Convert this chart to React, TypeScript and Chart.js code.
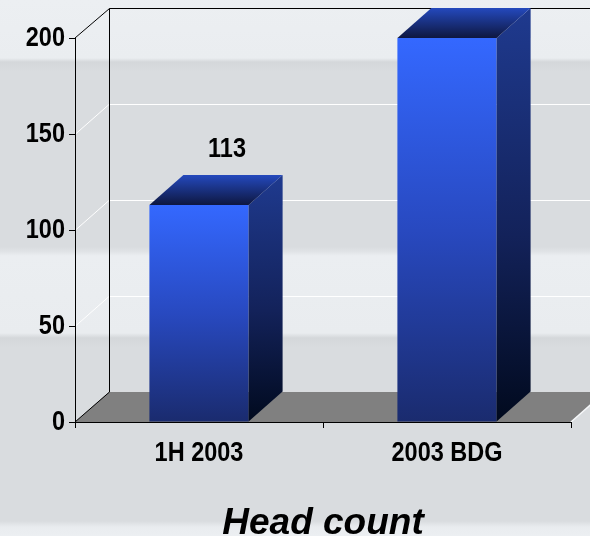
import { useEffect, useRef } from "react";
import { Chart, registerables } from "chart.js";

Chart.register(...registerables);

// ---- data ----
const categories = ["1H 2003", "2003 BDG"];
const headCount = [113, 200];
const yTickValues = [0, 50, 100, 150, 200];
const chartTitle = "Head count";

// ---- style ----
const W = 590;
const H = 536;
const DX = 34; // 3D depth offset (x)
const DY = -30; // 3D depth offset (y)
const SANS = "'Liberation Sans', Arial, sans-serif";
const LABEL_FONT = `bold 23.5px ${SANS}`;
const STRETCH_Y = 1.17;

const bgStops: [number, string][] = [
  [0, "#eceff2"],
  [58, "#eaedf0"],
  [62, "#d4d7da"],
  [72, "#d9dcdf"],
  [247, "#d9dcdf"],
  [251, "#dfe2e5"],
  [256, "#ebeef1"],
  [333, "#e9ecef"],
  [338, "#d4d7da"],
  [348, "#d9dcdf"],
  [521, "#d9dcdf"],
  [527, "#e9ecef"],
  [536, "#eceff2"],
];

function drawLabel(ctx: CanvasRenderingContext2D, text: string, x: number, y: number, align: CanvasTextAlign) {
  ctx.save();
  ctx.translate(x, y);
  ctx.scale(1, STRETCH_Y);
  ctx.font = LABEL_FONT;
  ctx.fillStyle = "#000000";
  ctx.textAlign = align;
  ctx.textBaseline = "middle";
  ctx.fillText(text, 0, 0);
  ctx.restore();
}

const scenePlugin = {
  id: "scene3d",
  beforeDraw(chart: any) {
    const { ctx, chartArea } = chart;
    const { left, right, top, bottom } = chartArea;
    const ys = chart.scales.y;
    ctx.save();
    // background bands
    const g = ctx.createLinearGradient(0, 0, 0, H);
    bgStops.forEach(([y, c]) => g.addColorStop(y / H, c));
    ctx.fillStyle = g;
    ctx.fillRect(0, 0, W, H);

    // floor
    ctx.fillStyle = "#808080";
    ctx.beginPath();
    ctx.moveTo(left, bottom);
    ctx.lineTo(right, bottom);
    ctx.lineTo(right + DX, bottom + DY);
    ctx.lineTo(left + DX, bottom + DY);
    ctx.closePath();
    ctx.fill();
    ctx.strokeStyle = "#f6f8fa";
    ctx.lineWidth = 1.5;
    ctx.beginPath();
    ctx.moveTo(right, bottom);
    ctx.lineTo(right + DX, bottom + DY);
    ctx.stroke();

    // gridlines on side and back walls
    ctx.strokeStyle = "#ffffff";
    ctx.lineWidth = 1;
    const maxV = ys.max;
    ys.ticks.forEach((t: any) => {
      if (t.value === 0 || t.value === maxV) return;
      const py = Math.round(ys.getPixelForValue(t.value)) + 0.5;
      ctx.beginPath();
      ctx.moveTo(left, py);
      ctx.lineTo(left + DX, py + DY);
      ctx.lineTo(W, py + DY);
      ctx.stroke();
    });

    // black frame
    ctx.strokeStyle = "#000000";
    ctx.lineWidth = 1;
    const bx = Math.round(left + DX) + 0.5;
    const ty = Math.round(top + DY) + 0.5;
    ctx.beginPath();
    ctx.moveTo(left, bottom);
    ctx.lineTo(bx, bottom + DY);
    ctx.lineTo(bx, ty);
    ctx.lineTo(W, ty);
    ctx.moveTo(left, top);
    ctx.lineTo(bx, ty);
    ctx.stroke();
    ctx.restore();
  },
  afterDatasetsDraw(chart: any) {
    const { ctx } = chart;
    const meta = chart.getDatasetMeta(0);
    ctx.save();
    meta.data.forEach((bar: any, i: number) => {
      const { x, y, width, base } = bar.getProps(["x", "y", "width", "base"], true);
      const l = x - width / 2;
      const r = x + width / 2;
      // side face
      const sg = ctx.createLinearGradient(0, y + DY, 0, base);
      sg.addColorStop(0, "#1f3a8f");
      sg.addColorStop(0.55, "#13225a");
      sg.addColorStop(1, "#010a1e");
      ctx.fillStyle = sg;
      ctx.beginPath();
      ctx.moveTo(r, y);
      ctx.lineTo(r + DX, y + DY);
      ctx.lineTo(r + DX, base + DY);
      ctx.lineTo(r, base);
      ctx.closePath();
      ctx.fill();
      // top face
      const tg = ctx.createLinearGradient(0, y + DY, 0, y);
      tg.addColorStop(0, "#2449bd");
      tg.addColorStop(1, "#0e1740");
      ctx.fillStyle = tg;
      ctx.beginPath();
      ctx.moveTo(l, y);
      ctx.lineTo(r, y);
      ctx.lineTo(r + DX, y + DY);
      ctx.lineTo(l + DX, y + DY);
      ctx.closePath();
      ctx.fill();
      // value label
      drawLabel(ctx, String(headCount[i]), x + 28, y - 56, "center");
    });
    ctx.restore();
  },
  afterDraw(chart: any) {
    const { ctx, chartArea } = chart;
    const xs = chart.scales.x;
    const ys = chart.scales.y;
    // y tick labels
    ys.ticks.forEach((t: any) => {
      drawLabel(ctx, String(t.value), chartArea.left - 10, ys.getPixelForValue(t.value) + 0.5, "right");
    });
    // category labels
    categories.forEach((c, i) => {
      drawLabel(ctx, c, xs.getPixelForValue(i), chartArea.bottom + 31, "center");
    });
  },
};

export default function App() {
  const ref = useRef<HTMLCanvasElement | null>(null);

  useEffect(() => {
    if (!ref.current) return;
    const chart = new Chart(ref.current, {
      type: "bar",
      data: {
        labels: categories,
        datasets: [
          {
            data: headCount,
            barPercentage: 0.4,
            categoryPercentage: 1,
            borderWidth: 0,
            backgroundColor: (c: any) => {
              const ch = c.chart;
              const ys = ch.scales?.y;
              if (!ys || c.raw == null || !isFinite(ys.getPixelForValue(0))) return "#3366ff";
              const t = ys.getPixelForValue(c.raw);
              const b = ys.getPixelForValue(0);
              const g = ch.ctx.createLinearGradient(0, t, 0, b);
              g.addColorStop(0, "#3468ff");
              g.addColorStop(0.5, "#2849c0");
              g.addColorStop(1, "#1a2b6e");
              return g;
            },
          },
        ],
      },
      options: {
        responsive: false,
        animation: false,
        layout: { padding: { top: 38, right: 19, left: 0, bottom: 0 } },
        plugins: {
          legend: { display: false },
          tooltip: { enabled: false },
          title: {
            display: true,
            text: chartTitle,
            position: "bottom",
            fullSize: false,
            color: "#000000",
            font: { family: SANS, size: 37, weight: "bold", style: "italic", lineHeight: 0.8 },
            padding: { top: 3, bottom: -3 },
          },
        },
        scales: {
          x: {
            offset: true,
            grid: { offset: true, drawOnChartArea: false, drawTicks: true, tickLength: 6, color: "#000000" },
            border: { display: true, color: "#000000", width: 1 },
            ticks: { display: false },
            afterFit: (s: any) => {
              s.height = 84.4;
            },
          },
          y: {
            min: 0,
            max: 200,
            afterBuildTicks: (s: any) => {
              s.ticks = yTickValues.map((v) => ({ value: v }));
            },
            grid: { drawOnChartArea: false, drawTicks: true, tickLength: 6, color: "#000000" },
            border: { display: true, color: "#000000", width: 1 },
            ticks: { display: false },
            afterFit: (s: any) => {
              s.width = 75;
            },
          },
        },
      },
      plugins: [scenePlugin],
    });
    return () => chart.destroy();
  }, []);

  return (
    <div style={{ position: "absolute", left: 0, top: 0, width: W, height: H }}>
      <canvas ref={ref} width={W} height={H} style={{ display: "block" }} />
    </div>
  );
}
